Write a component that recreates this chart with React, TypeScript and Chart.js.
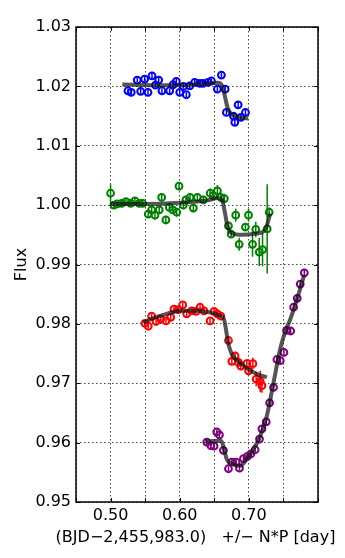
import React, { useEffect, useRef } from "react";
import { Chart, registerables } from "chart.js";

Chart.register(...registerables);

// ---- Data ----
const blueX = [0.5251, 0.5299, 0.5386, 0.5435, 0.5493, 0.5541, 0.5599, 0.565, 0.5696, 0.5743, 0.5855, 0.5903, 0.5951, 0.6, 0.6052, 0.6096, 0.6145, 0.6217, 0.629, 0.6338, 0.641, 0.6458, 0.6545, 0.6603, 0.6657, 0.6675, 0.6777, 0.6797, 0.6845, 0.6884, 0.6951];
const blueY = [1.01926, 1.01899, 1.02106, 1.01916, 1.02123, 1.01899, 1.02178, 1.0202, 1.02106, 1.01926, 1.01926, 1.02027, 1.02084, 1.01899, 1.02, 1.01859, 1.0201, 1.02067, 1.0205, 1.0205, 1.02067, 1.02094, 1.01955, 1.0219, 1.01955, 1.01562, 1.015, 1.01394, 1.0169, 1.01478, 1.01562];
const blueErr = [0.0004, 0.0004, 0.0004, 0.0004, 0.0004, 0.0004, 0.0005, 0.0004, 0.0004, 0.0004, 0.0004, 0.0004, 0.0004, 0.0004, 0.0004, 0.0004, 0.0004, 0.0004, 0.0004, 0.0004, 0.0004, 0.0004, 0.0004, 0.0004, 0.0004, 0.0004, 0.0005, 0.0005, 0.0005, 0.0005, 0.0005];
const blueModelX = [0.517, 0.56, 0.6, 0.63, 0.655, 0.661, 0.665, 0.669, 0.674, 0.68, 0.69, 0.699];
const blueModelY = [1.0203, 1.0202, 1.0202, 1.0204, 1.0206, 1.0202, 1.0185, 1.0165, 1.0154, 1.015, 1.0147, 1.0146];

const greenX = [0.5, 0.5048, 0.5096, 0.516, 0.5222, 0.529, 0.5352, 0.5415, 0.5464, 0.5545, 0.5594, 0.5642, 0.5704, 0.5739, 0.58, 0.585, 0.59, 0.5957, 0.599, 0.6052, 0.609, 0.615, 0.6197, 0.6255, 0.6342, 0.644, 0.6487, 0.6545, 0.6594, 0.6646, 0.6705, 0.6744, 0.681, 0.686, 0.695, 0.6995, 0.7053, 0.71, 0.715, 0.7198, 0.7265, 0.7294];
const greenY = [1.002, 1.0, 1.0002, 1.0003, 1.0006, 1.0003, 1.0007, 1.0003, 1.0003, 0.9985, 0.9992, 0.9983, 0.9992, 1.0013, 0.9975, 0.9996, 0.9992, 0.9988, 1.0032, 1.0, 1.0009, 1.0013, 0.9995, 1.0013, 1.0009, 1.002, 1.0016, 1.0024, 1.0013, 1.0011, 0.9965, 0.9951, 0.9983, 0.9934, 0.9963, 0.9983, 0.9934, 0.9959, 0.9921, 0.9925, 0.996, 0.9988];
const greenErr = [0.0015, 0.0006, 0.0006, 0.0006, 0.0006, 0.0006, 0.0006, 0.0006, 0.0006, 0.0007, 0.0007, 0.0007, 0.0007, 0.0007, 0.0007, 0.0007, 0.0007, 0.0007, 0.0007, 0.0007, 0.0007, 0.0007, 0.0007, 0.0007, 0.0007, 0.0008, 0.0008, 0.001, 0.0008, 0.0008, 0.0006, 0.0006, 0.0011, 0.0011, 0.0006, 0.0011, 0.0021, 0.0013, 0.0024, 0.0028, 0.0075, 0.0008];
const greenModelX = [0.499, 0.55, 0.6, 0.64, 0.655, 0.661, 0.665, 0.669, 0.675, 0.69, 0.71, 0.72, 0.725, 0.731];
const greenModelY = [1.0002, 1.0002, 1.0004, 1.0008, 1.0012, 1.0009, 0.999, 0.9965, 0.9953, 0.995, 0.9952, 0.9955, 0.9962, 0.9986];

const redX = [0.5497, 0.5545, 0.5594, 0.5657, 0.5724, 0.5801, 0.587, 0.5917, 0.598, 0.6043, 0.6101, 0.6174, 0.6236, 0.6294, 0.6352, 0.6439, 0.6497, 0.6545, 0.6594, 0.6705, 0.6754, 0.6801, 0.6849, 0.6884, 0.6971, 0.6995, 0.7058, 0.7106, 0.7164, 0.7189];
const redY = [0.9801, 0.9796, 0.9813, 0.9804, 0.9808, 0.9805, 0.9811, 0.9825, 0.9824, 0.9832, 0.9817, 0.9822, 0.9821, 0.9828, 0.9822, 0.9805, 0.9821, 0.9817, 0.9813, 0.9772, 0.9737, 0.9746, 0.9735, 0.9729, 0.9733, 0.9721, 0.9733, 0.9707, 0.9703, 0.9696];
const redErr = [0.0004, 0.0004, 0.0004, 0.0004, 0.0004, 0.0004, 0.0004, 0.0004, 0.0004, 0.0004, 0.0004, 0.0004, 0.0004, 0.0004, 0.0004, 0.0004, 0.0004, 0.0004, 0.0004, 0.0005, 0.0006, 0.0007, 0.0007, 0.0007, 0.0008, 0.0008, 0.001, 0.0012, 0.0018, 0.0012];
const redModelX = [0.547, 0.56, 0.576, 0.59, 0.6, 0.625, 0.645, 0.658, 0.664, 0.667, 0.67, 0.675, 0.68, 0.6875, 0.7, 0.713, 0.726];
const redModelY = [0.9802, 0.9809, 0.9815, 0.982, 0.9822, 0.9822, 0.9819, 0.9814, 0.9808, 0.979, 0.9768, 0.975, 0.9742, 0.9734, 0.9723, 0.9715, 0.971];

const purpleX = [0.6391, 0.645, 0.6497, 0.6536, 0.6574, 0.6632, 0.6705, 0.6754, 0.6816, 0.6864, 0.6922, 0.698, 0.7029, 0.7091, 0.7154, 0.7189, 0.7251, 0.73, 0.7357, 0.7406, 0.7454, 0.7507, 0.7545, 0.7605, 0.7647, 0.77, 0.7743, 0.7802];
const purpleY = [0.9601, 0.9595, 0.9594, 0.9618, 0.9613, 0.9587, 0.9556, 0.9567, 0.9567, 0.9557, 0.9573, 0.9577, 0.9581, 0.9588, 0.9606, 0.9623, 0.9635, 0.9667, 0.9693, 0.974, 0.9738, 0.9752, 0.9789, 0.9788, 0.9828, 0.9843, 0.9867, 0.9886];
const purpleErr = [0.0004, 0.0004, 0.0004, 0.0004, 0.0004, 0.0004, 0.0004, 0.0004, 0.0004, 0.0004, 0.0004, 0.0004, 0.0004, 0.0004, 0.0004, 0.0004, 0.0004, 0.0004, 0.0005, 0.0005, 0.0005, 0.0005, 0.0005, 0.0006, 0.0005, 0.0005, 0.0005, 0.0005];
const purpleModelX = [0.6366, 0.66, 0.664, 0.668, 0.675, 0.6874, 0.6968, 0.7068, 0.716, 0.726, 0.7358, 0.7454, 0.752, 0.76, 0.77, 0.78];
const purpleModelY = [0.9602, 0.9603, 0.959, 0.9572, 0.9565, 0.9561, 0.9572, 0.9589, 0.961, 0.9645, 0.9702, 0.9758, 0.9785, 0.9808, 0.9843, 0.9882];

const xLabelTicks = [0.5, 0.6, 0.7];
const xTitle = "(BJD\u22122,455,983.0)   +/\u2212 N*P [day]";
const yTitle = "Flux";

const FONT = "'DejaVu Sans'";

Chart.defaults.font.family = FONT;
Chart.defaults.font.size = 16;
Chart.defaults.color = "#000";

const pts = (xs: number[], ys: number[]) => xs.map((x, i) => ({ x, y: ys[i] }));

const errorBarPlugin = {
  id: "errorBars",
  beforeDatasetsDraw(chart: any) {
    const { ctx } = chart;
    const xs = chart.scales.x;
    const ys = chart.scales.y;
    chart.data.datasets.forEach((ds: any) => {
      if (!ds.errors) return;
      ctx.save();
      ctx.strokeStyle = ds.borderColor;
      ctx.lineWidth = 1.5;
      ds.data.forEach((p: any, j: number) => {
        const e = ds.errors[j];
        const px = xs.getPixelForValue(p.x);
        ctx.beginPath();
        ctx.moveTo(px, ys.getPixelForValue(p.y - e));
        ctx.lineTo(px, ys.getPixelForValue(p.y + e));
        ctx.stroke();
      });
      ctx.restore();
    });
  },
};

const framePlugin = {
  id: "frame",
  afterDatasetsDraw(chart: any) {
    const { ctx, chartArea } = chart;
    const { left, right, top, bottom } = chartArea;
    const xs = chart.scales.x;
    const ys = chart.scales.y;
    ctx.save();
    ctx.strokeStyle = "#000";
    ctx.lineWidth = 1;
    const L = 4;
    xs.ticks.forEach((t: any) => {
      const px = Math.round(xs.getPixelForValue(t.value)) + 0.5;
      ctx.beginPath();
      ctx.moveTo(px, bottom);
      ctx.lineTo(px, bottom - L);
      ctx.moveTo(px, top);
      ctx.lineTo(px, top + L);
      ctx.stroke();
    });
    ys.ticks.forEach((t: any) => {
      const py = Math.round(ys.getPixelForValue(t.value)) + 0.5;
      ctx.beginPath();
      ctx.moveTo(left, py);
      ctx.lineTo(left + L, py);
      ctx.moveTo(right, py);
      ctx.lineTo(right - L, py);
      ctx.stroke();
    });
    ctx.lineWidth = 1.5;
    ctx.strokeRect(left, top, right - left, bottom - top);
    ctx.restore();
  },
  afterDraw(chart: any) {
    const { ctx, chartArea } = chart;
    ctx.save();
    ctx.fillStyle = "#000";
    ctx.font = "16px " + FONT;
    ctx.textAlign = "center";
    ctx.textBaseline = "middle";
    ctx.fillText(xTitle, (chartArea.left + chartArea.right) / 2 - 1.5, 538);
    ctx.restore();
  },
};

function scatterSet(xs: number[], ys: number[], errs: number[], color: string) {
  return {
    type: "scatter",
    data: pts(xs, ys),
    errors: errs,
    borderColor: color,
    backgroundColor: "rgba(0,0,0,0)",
    pointRadius: 3.4,
    pointBorderWidth: 2,
    borderWidth: 2,
    showLine: false,
    order: 2,
  };
}

function modelSet(xs: number[], ys: number[]) {
  return {
    type: "line",
    data: pts(xs, ys),
    borderColor: "rgba(20,20,20,0.72)",
    borderWidth: 4,
    pointRadius: 0,
    fill: false,
    cubicInterpolationMode: "monotone",
    order: 1,
  };
}

const tickFont = { family: FONT, size: 16 };
const titleFont = { family: FONT, size: 16, weight: "normal", style: "normal", lineHeight: 1.2 };

export default function App() {
  const ref = useRef<HTMLCanvasElement>(null);
  useEffect(() => {
    if (!ref.current) return;
    const gridCommon = {
      color: "rgba(0,0,0,0.9)",
      lineWidth: 0.8,
      drawTicks: false,
    };
    const chart = new Chart(ref.current, {
      type: "scatter",
      data: {
        datasets: [
          scatterSet(blueX, blueY, blueErr, "#0000ff"),
          modelSet(blueModelX, blueModelY),
          scatterSet(greenX, greenY, greenErr, "#008000"),
          modelSet(greenModelX, greenModelY),
          scatterSet(redX, redY, redErr, "#ff0000"),
          modelSet(redModelX, redModelY),
          scatterSet(purpleX, purpleY, purpleErr, "#800080"),
          modelSet(purpleModelX, purpleModelY),
        ] as any,
      },
      options: {
        animation: false,
        responsive: false,
        font: { family: FONT, size: 16 },
        layout: { padding: { top: 27, right: 27, left: 0, bottom: 0 } },
        plugins: { legend: { display: false }, tooltip: { enabled: false } },
        scales: {
          x: {
            type: "linear",
            min: 0.45,
            max: 0.8,
            grid: gridCommon,
            border: { display: false, dash: [1.5, 2.5] },
            ticks: {
              stepSize: 0.05,
              autoSkip: false,
              maxRotation: 0,
              padding: 4,
              color: "#000",
              font: tickFont,
              callback: (v: any) => {
                const val = Number(v);
                return xLabelTicks.some((t) => Math.abs(t - val) < 1e-6) ? val.toFixed(2) : "";
              },
            },
            title: { display: false },
            afterFit: (s: any) => {
              s.height = 56;
            },
          },
          y: {
            type: "linear",
            min: 0.95,
            max: 1.03,
            grid: gridCommon,
            border: { display: false, dash: [1.5, 2.5] },
            ticks: {
              stepSize: 0.01,
              padding: 5,
              color: "#000",
              font: tickFont,
              callback: (v: any) => Number(v).toFixed(2),
            },
            title: {
              display: true,
              text: yTitle,
              color: "#000",
              font: titleFont,
              padding: { top: 12, bottom: 0 },
            },
            afterFit: (s: any) => {
              s.width = 76;
            },
          },
        },
      },
      plugins: [errorBarPlugin, framePlugin],
    } as any);
    return () => chart.destroy();
  }, []);
  return (
    <div style={{ position: "absolute", left: 0, top: 0, width: 345, height: 558, background: "#fff" }}>
      <canvas ref={ref} width={345} height={558} />
    </div>
  );
}
